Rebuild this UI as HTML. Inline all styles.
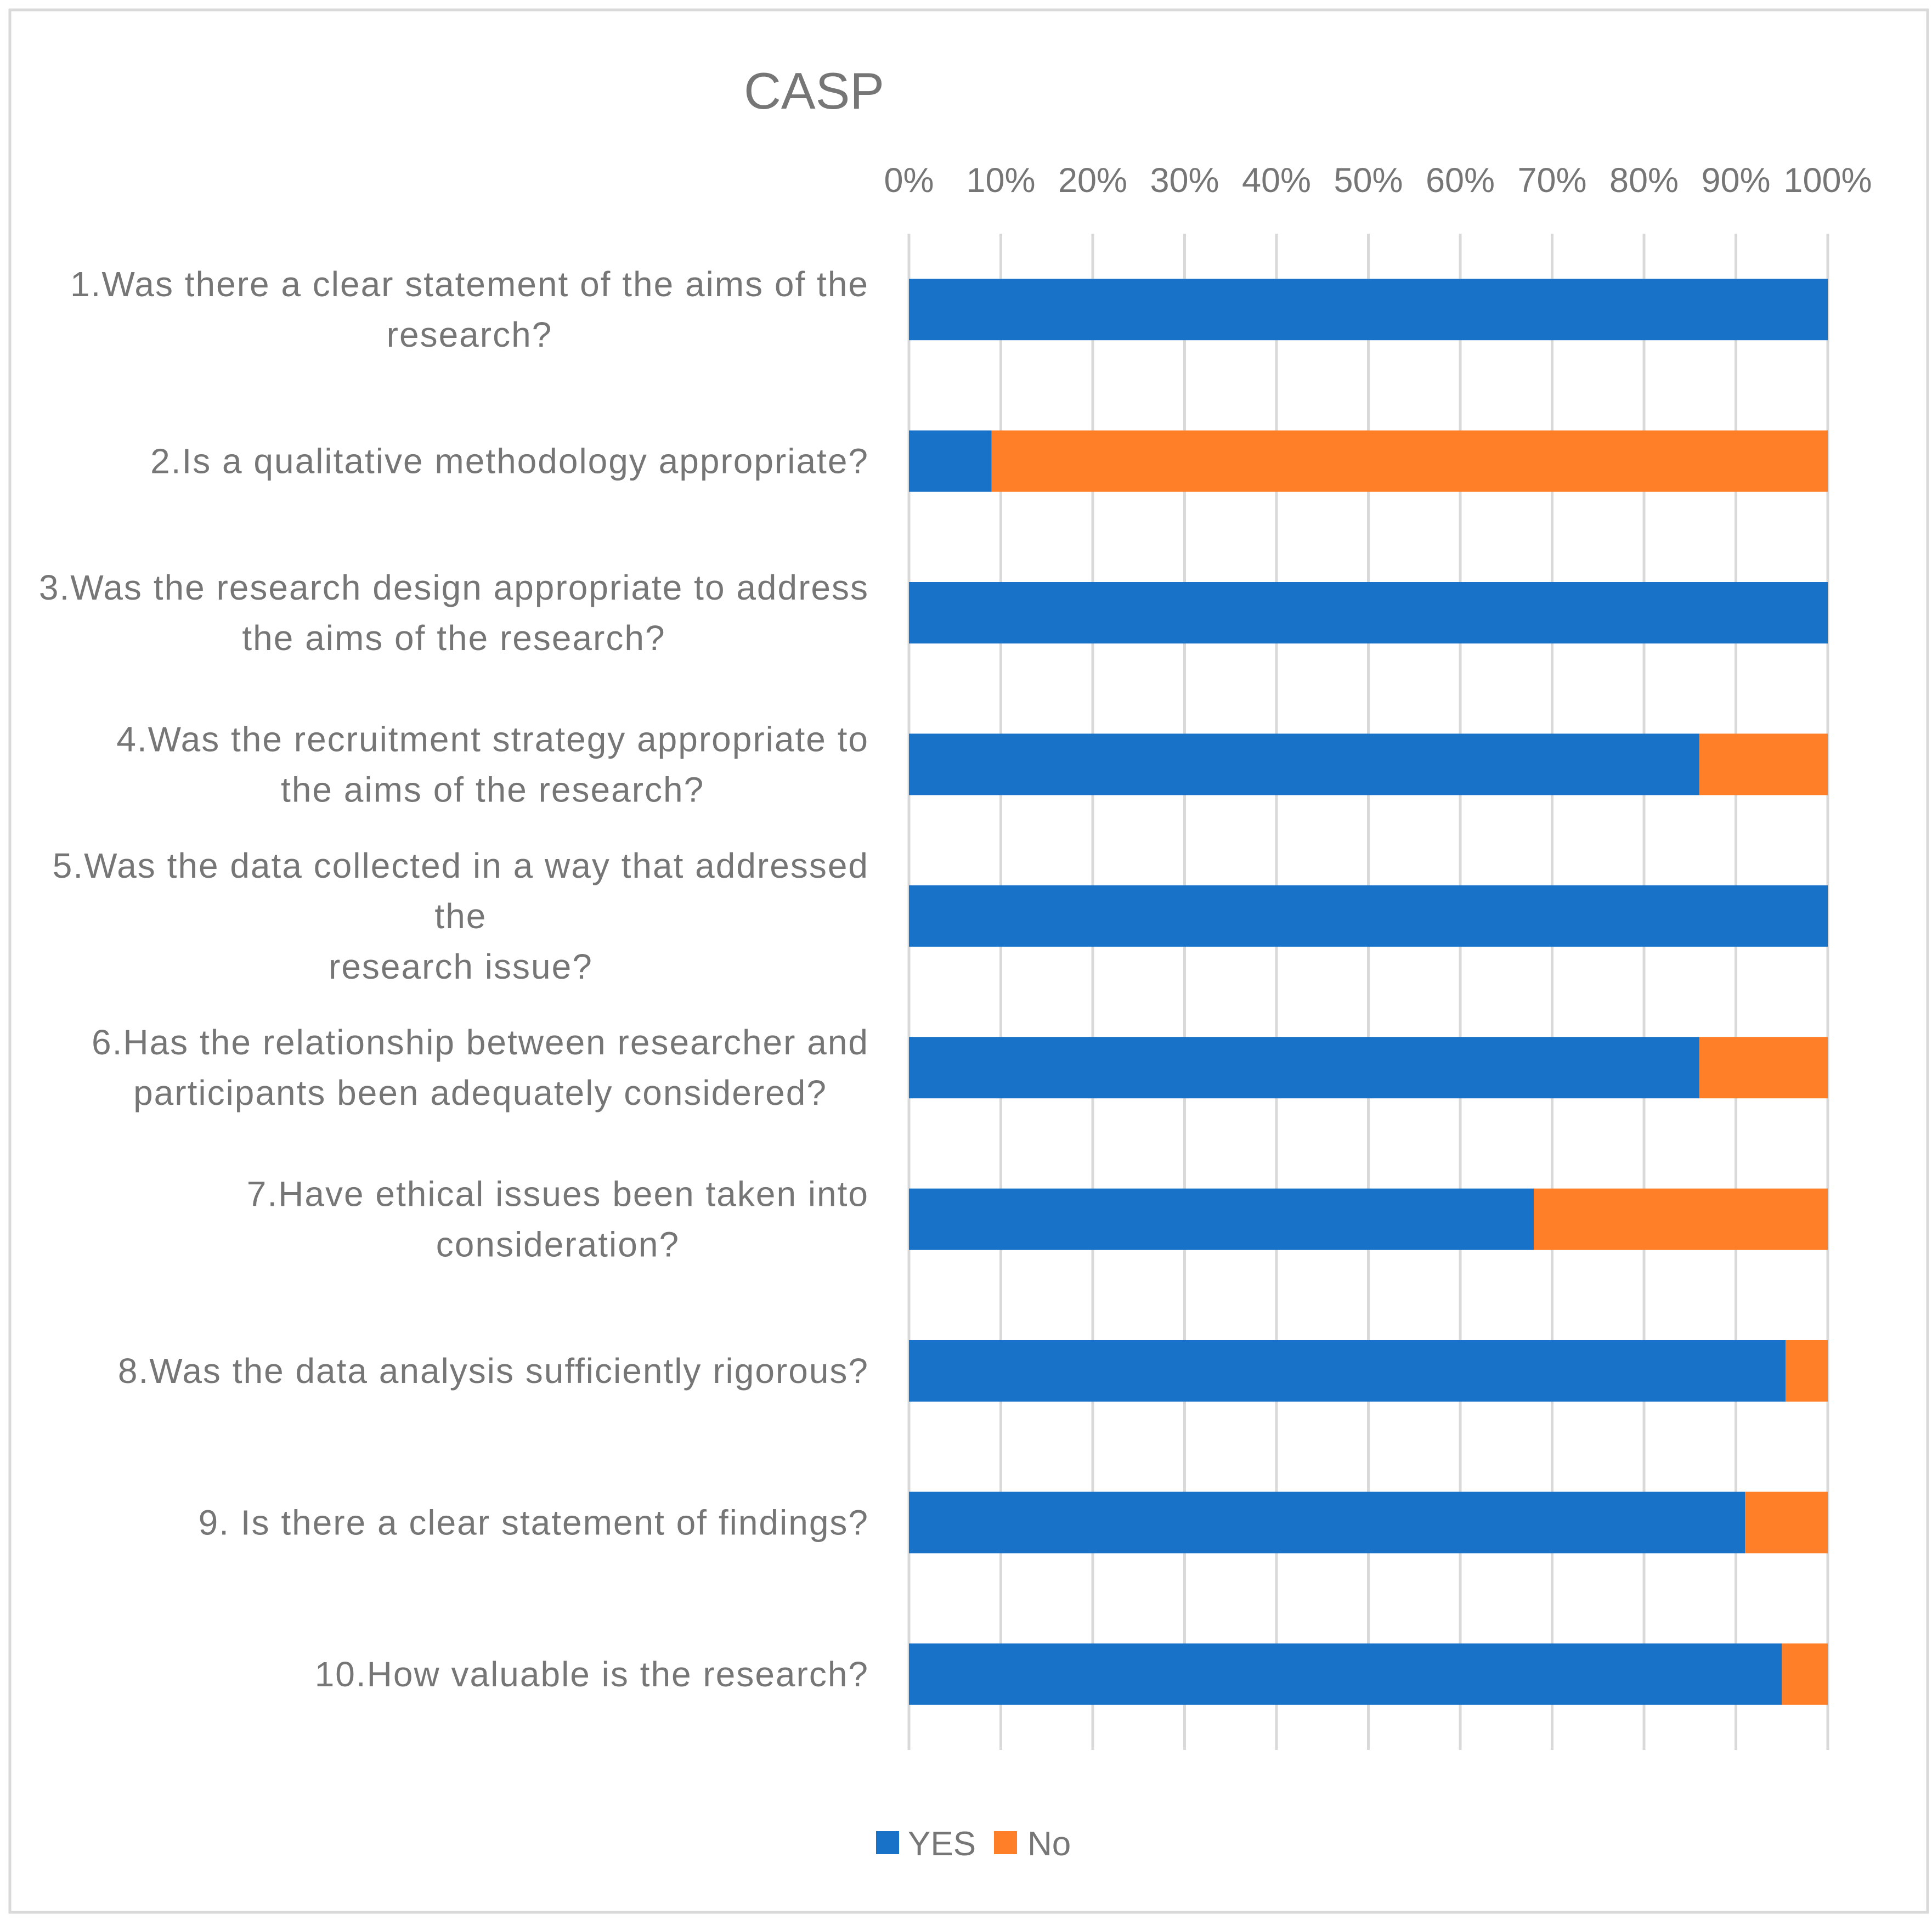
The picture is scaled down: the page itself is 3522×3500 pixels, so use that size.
<!DOCTYPE html>
<html><head><meta charset="utf-8"><style>
html,body{margin:0;padding:0;background:#fff}
svg{display:block;font-family:"Liberation Sans",sans-serif}
</style></head><body>
<svg id="chart" width="3522" height="3500" viewBox="0 0 3522 3500" xmlns="http://www.w3.org/2000/svg">
<rect x="18" y="18" width="3496" height="3468" fill="#fff" stroke="#d9d9d9" stroke-width="5"/>
<text x="1484" y="198" font-size="94" fill="#767676" text-anchor="middle">CASP</text>
<g id="grid"></g><g id="ticks"></g><g id="bars"></g><g id="labels"></g>
<g>
<rect x="1597" y="3338" width="42" height="42" fill="#1873c8"/>
<text x="1655" y="3382" font-size="62" fill="#767676">YES</text>
<rect x="1812" y="3338" width="42" height="42" fill="#fe7f28"/>
<text x="1873" y="3382" font-size="62" fill="#767676">No</text>
</g>
</svg>
<script>
const categories = [
 ["1.Was there a clear statement of the aims of the","research?"],
 ["2.Is a qualitative methodology appropriate?"],
 ["3.Was the research design appropriate to address","the aims of the research?"],
 ["4.Was the recruitment strategy appropriate to","the aims of the research?"],
 ["5.Was the data collected in a way that addressed","the","research issue?"],
 ["6.Has the relationship between researcher and","participants been adequately considered?"],
 ["7.Have ethical issues been taken into","consideration?"],
 ["8.Was the data analysis sufficiently rigorous?"],
 ["9. Is there a clear statement of findings?"],
 ["10.How valuable is the research?"]
];
const yesValues = [100, 9, 100, 86, 100, 86, 68, 95.4, 91, 95];
const noValues = [0, 91, 0, 14, 0, 14, 32, 4.6, 9, 5];
const tickValues = [0,10,20,30,40,50,60,70,80,90,100];
const tickLabels = ["0%","10%","20%","30%","40%","50%","60%","70%","80%","90%","100%"];

const NS="http://www.w3.org/2000/svg";
const X0=1657, X1=3332, TOP=426, BOT=3190;
const band=(BOT-TOP)/categories.length, barH=112;
function xs(v){return X0+(X1-X0)*v/100;}
function yc(i){return TOP+band*(i+0.5);}
function mk(tag,attrs,parent){const e=document.createElementNS(NS,tag);for(const k in attrs)e.setAttribute(k,attrs[k]);document.getElementById(parent).appendChild(e);return e;}

tickValues.forEach((t,i)=>{
  const g=mk('line',{x1:xs(t),x2:xs(t),y1:TOP,y2:BOT,stroke:'#d9d9d9','stroke-width':5},'grid');
  
  
  const l=mk('text',{x:xs(t),y:350,'font-size':63,fill:'#767676','text-anchor':'middle'},'ticks');
  l.textContent=tickLabels[i];
  
  
});
categories.forEach((lines,i)=>{
  const c=yc(i);
  const a=mk('rect',{x:xs(0),y:c-barH/2,width:xs(yesValues[i])-xs(0),height:barH,fill:'#1873c8'},'bars');
  
  
  const b=mk('rect',{x:xs(yesValues[i]),y:c-barH/2,width:xs(yesValues[i]+noValues[i])-xs(yesValues[i]),height:barH,fill:'#fe7f28'},'bars');
  
  
  const n=lines.length;
  lines.forEach((s,k)=>{
    const t=mk('text',{x:1584,y:c+(k-(n-1)/2)*92+22,'font-size':64,'letter-spacing':2,fill:'#767676','text-anchor':'end'},'labels');
    t.textContent=s;
    
    
  });
});
(function(){
  const texts=[...document.getElementById('labels').children];
  let idx=0;
  categories.forEach(lines=>{
    const first=texts[idx];
    const w=first.getComputedTextLength();
    const mid=1584-w/2;
    for(let k=1;k<lines.length;k++){
      const t=texts[idx+k];
      t.setAttribute('text-anchor','middle');
      t.setAttribute('x',mid);
    }
    idx+=lines.length;
  });
})();
</script>
</body></html>
